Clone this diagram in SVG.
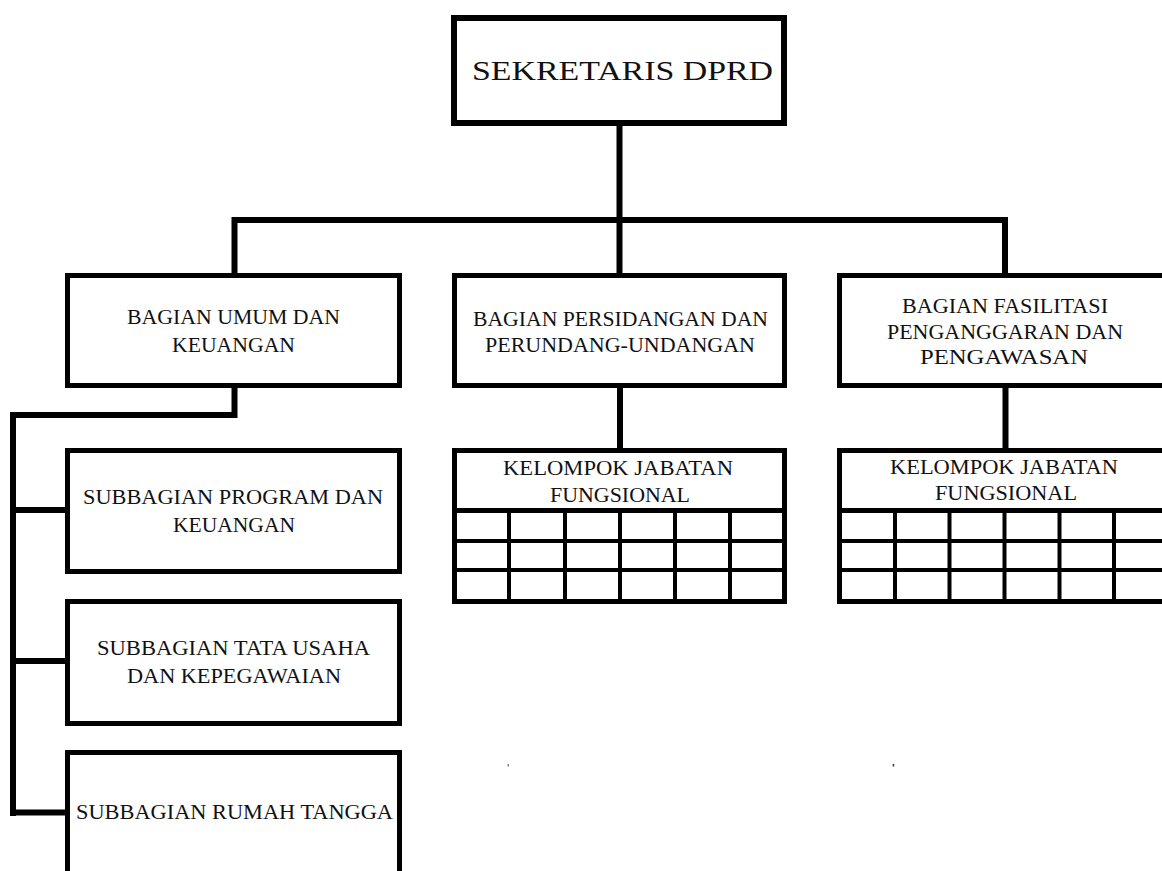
<svg xmlns="http://www.w3.org/2000/svg" width="1162" height="871" viewBox="0 0 1162 871">
<style>
.box{fill:#fff;stroke:#000;stroke-width:5}
.top{fill:#fff;stroke:#000;stroke-width:6}
.con{fill:none;stroke:#000;stroke-width:6;stroke-linejoin:miter;stroke-linecap:butt}
.grid{stroke:#000;stroke-width:4}
.sep{stroke:#000;stroke-width:5}
text{font-family:"Liberation Serif","Times New Roman",serif;font-size:20px;fill:#111;text-anchor:middle}
.big{font-size:27px}
</style>
<rect width="1162" height="871" fill="#fff"/>
<g id="connectors">
<path class="con" d="M619.5 126 V220 M231.5 220 H1008 M234.5 217 V273 M619.5 220 V273 M1005 220 V273"/>
<path class="con" d="M234.5 388 V415 H13 V816"/>
<path class="con" d="M10 510 H65 M10 661 H65 M13 812.5 H65"/>
<path class="con" d="M620 388 V448 M1005.5 388 V448"/>
</g>
<g id="sekretaris">
<rect class="top" x="454" y="18" width="330" height="105"/>
<text class="big" x="622.5" y="80" textLength="301" lengthAdjust="spacingAndGlyphs">SEKRETARIS DPRD</text>
</g>
<g id="bagian-umum">
<rect class="box" x="67.5" y="275.5" width="332" height="110"/>
<text x="233.5" y="324" textLength="213" lengthAdjust="spacingAndGlyphs">BAGIAN UMUM DAN</text>
<text x="233.5" y="352" textLength="123" lengthAdjust="spacingAndGlyphs">KEUANGAN</text>
</g>
<g id="bagian-persidangan">
<rect class="box" x="454.5" y="275.5" width="330" height="110"/>
<text x="620.5" y="325.5" textLength="295" lengthAdjust="spacingAndGlyphs">BAGIAN PERSIDANGAN DAN</text>
<text x="620" y="352" textLength="270" lengthAdjust="spacingAndGlyphs">PERUNDANG-UNDANGAN</text>
</g>
<g id="bagian-fasilitasi">
<rect class="box" x="839.5" y="275.5" width="330" height="110"/>
<text x="1005" y="312.5" textLength="206" lengthAdjust="spacingAndGlyphs">BAGIAN FASILITASI</text>
<text x="1005" y="338.5" textLength="236" lengthAdjust="spacingAndGlyphs">PENGANGGARAN DAN</text>
<text x="1004" y="364" textLength="168" lengthAdjust="spacingAndGlyphs">PENGAWASAN</text>
</g>
<g id="subbagian-program">
<rect class="box" x="67.5" y="450.5" width="332" height="121"/>
<text x="233" y="504" textLength="300" lengthAdjust="spacingAndGlyphs">SUBBAGIAN PROGRAM DAN</text>
<text x="234" y="532" textLength="122" lengthAdjust="spacingAndGlyphs">KEUANGAN</text>
</g>
<g id="subbagian-tata-usaha">
<rect class="box" x="67.5" y="601.5" width="332" height="122"/>
<text x="233.5" y="655" textLength="273" lengthAdjust="spacingAndGlyphs">SUBBAGIAN TATA USAHA</text>
<text x="234" y="683" textLength="214" lengthAdjust="spacingAndGlyphs">DAN KEPEGAWAIAN</text>
</g>
<g id="subbagian-rumah-tangga">
<rect class="box" x="67.5" y="752.5" width="332" height="130"/>
<text x="234.5" y="819" textLength="317" lengthAdjust="spacingAndGlyphs">SUBBAGIAN RUMAH TANGGA</text>
</g>
<g id="jabatan-fungsional-1">
<rect class="box" x="454.5" y="450.5" width="330" height="151"/>
<line class="sep" x1="454.5" y1="510.5" x2="784.5" y2="510.5"/>
<line class="grid" x1="454.5" y1="541" x2="784.5" y2="541"/>
<line class="grid" x1="454.5" y1="570" x2="784.5" y2="570"/>
<line class="grid" x1="509" y1="510.5" x2="509" y2="601.5"/>
<line class="grid" x1="565" y1="510.5" x2="565" y2="601.5"/>
<line class="grid" x1="620" y1="510.5" x2="620" y2="601.5"/>
<line class="grid" x1="675" y1="510.5" x2="675" y2="601.5"/>
<line class="grid" x1="730" y1="510.5" x2="730" y2="601.5"/>
<text x="618" y="475" textLength="230" lengthAdjust="spacingAndGlyphs">KELOMPOK JABATAN</text>
<text x="620" y="502" textLength="140" lengthAdjust="spacingAndGlyphs">FUNGSIONAL</text>
</g>
<g id="jabatan-fungsional-2">
<rect class="box" x="839.5" y="450.5" width="330" height="151"/>
<line class="sep" x1="839.5" y1="510.5" x2="1169.5" y2="510.5"/>
<line class="grid" x1="839.5" y1="541" x2="1169.5" y2="541"/>
<line class="grid" x1="839.5" y1="570" x2="1169.5" y2="570"/>
<line class="grid" x1="895" y1="510.5" x2="895" y2="601.5"/>
<line class="grid" x1="949.5" y1="510.5" x2="949.5" y2="601.5"/>
<line class="grid" x1="1004.5" y1="510.5" x2="1004.5" y2="601.5"/>
<line class="grid" x1="1059.5" y1="510.5" x2="1059.5" y2="601.5"/>
<line class="grid" x1="1114" y1="510.5" x2="1114" y2="601.5"/>
<text x="1004" y="473.5" textLength="228" lengthAdjust="spacingAndGlyphs">KELOMPOK JABATAN</text>
<text x="1006" y="500" textLength="142" lengthAdjust="spacingAndGlyphs">FUNGSIONAL</text>
</g>
<rect x="507.5" y="764" width="1.5" height="2.5" fill="#888"/>
<rect x="892.7" y="764" width="1.5" height="2.5" fill="#333"/>
</svg>
